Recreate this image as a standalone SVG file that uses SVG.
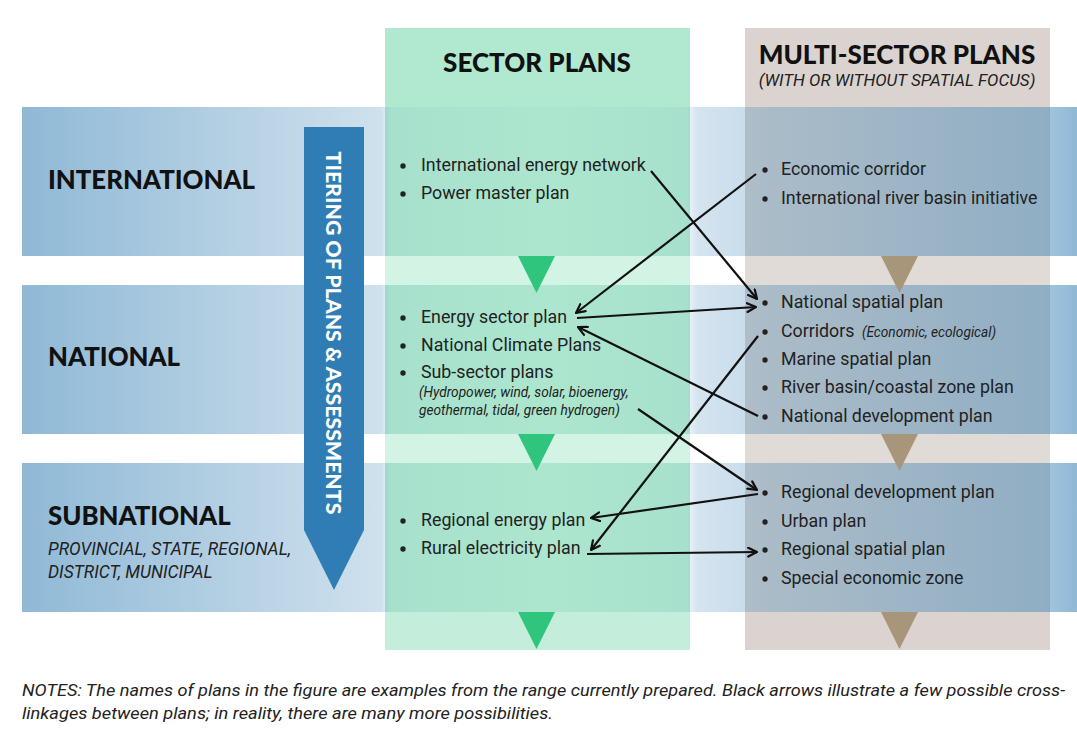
<svg xmlns="http://www.w3.org/2000/svg" width="1077" height="732" viewBox="0 0 1077 732">
  <defs>
    <linearGradient id="bandGrad" gradientUnits="userSpaceOnUse" x1="22" y1="0" x2="1077" y2="0">
      <stop offset="0" stop-color="#3f86b8" stop-opacity="0.58"/>
      <stop offset="0.34" stop-color="#3f86b8" stop-opacity="0.25"/>
      <stop offset="0.35" stop-color="#3f86b8" stop-opacity="0.08"/>
      <stop offset="0.5" stop-color="#3f86b8" stop-opacity="0.03"/>
      <stop offset="0.63" stop-color="#3f86b8" stop-opacity="0.08"/>
      <stop offset="0.64" stop-color="#3f86b8" stop-opacity="0.22"/>
      <stop offset="0.7" stop-color="#3f86b8" stop-opacity="0.3"/>
      <stop offset="0.97" stop-color="#3f86b8" stop-opacity="0.48"/>
      <stop offset="1" stop-color="#3f86b8" stop-opacity="0.58"/>
    </linearGradient>
    <marker id="arr" viewBox="0 0 10 10" refX="9" refY="5" markerWidth="5" markerHeight="5" orient="auto" markerUnits="strokeWidth">
      <path d="M1,1 L9,5 L1,9" fill="none" stroke="#111" stroke-width="2" stroke-linecap="round" stroke-linejoin="round"/>
    </marker>
  </defs>
  <style>
    .lvl { font-family: "Lato", "Liberation Sans", sans-serif; font-weight: 900; fill: #111; }
    .hdr { font-family: "Lato", "Liberation Sans", sans-serif; font-weight: 900; fill: #111; }
    .it { font-family: "Roboto", "Liberation Sans", sans-serif; font-style: italic; fill: #222; }
    .item { font-family: "Roboto", "Liberation Sans", sans-serif; font-size: 17.8px; fill: #222; }
    .small { font-family: "Roboto", "Liberation Sans", sans-serif; font-style: italic; font-size: 13.7px; fill: #222; }
    .dot { fill: #222; }
    .conn line { stroke: #111; stroke-width: 2.2; fill: none; marker-end: url(#arr); }
    .band { fill: url(#bandGrad); }
    .tg { fill: #30c57d; }
    .tb { fill: #a8967a; }
  </style>
  <rect width="1077" height="732" fill="#ffffff"/>

  <!-- columns -->
  <g id="col-sector">
    <rect x="385" y="28" width="305" height="622" fill="#b0e9cf"/>
  </g>
  <g id="col-multi">
    <rect x="745" y="28" width="305" height="622" fill="#dad3cf"/>
  </g>

  <!-- bands -->
  <g id="bands">
    <rect class="band" x="22" y="107" width="1055" height="149"/>
    <rect class="band" x="22" y="285" width="1055" height="149"/>
    <rect class="band" x="22" y="463" width="1055" height="149"/>
  </g>
  <!-- lighter gaps within columns -->
  <g id="gaps">
    <rect x="385" y="256" width="305" height="29" fill="#ffffff" fill-opacity="0.45"/>
    <rect x="385" y="434" width="305" height="29" fill="#ffffff" fill-opacity="0.45"/>
    <rect x="385" y="612" width="305" height="38" fill="#ffffff" fill-opacity="0.25"/>
    <rect x="745" y="256" width="305" height="29" fill="#ffffff" fill-opacity="0.2"/>
    <rect x="745" y="434" width="305" height="29" fill="#ffffff" fill-opacity="0.2"/>
  </g>

  <!-- triangles -->
  <g id="triangles">
    <polygon class="tg" points="518,256 555,256 536.5,293"/>
    <polygon class="tg" points="518,434 555,434 536.5,471"/>
    <polygon class="tg" points="518,612 555,612 536.5,649"/>
    <polygon class="tb" points="881,256 918,256 899.5,293"/>
    <polygon class="tb" points="881,434 918,434 899.5,471"/>
    <polygon class="tb" points="881,612 918,612 899.5,649"/>
  </g>

  <!-- column headers -->
  <g id="hdr-sector">
    <text class="hdr" x="537" y="72" font-size="26" text-anchor="middle">SECTOR PLANS</text>
  </g>
  <g id="hdr-multi">
    <text class="hdr" x="897" y="64" font-size="26" text-anchor="middle">MULTI-SECTOR PLANS</text>
    <text class="it" x="897" y="86" font-size="17" text-anchor="middle">(WITH OR WITHOUT SPATIAL FOCUS)</text>
  </g>

  <!-- level labels -->
  <g id="lvl-international">
    <text class="lvl" x="48" y="189" font-size="25.8">INTERNATIONAL</text>
  </g>
  <g id="lvl-national">
    <text class="lvl" x="48" y="366" font-size="25.8">NATIONAL</text>
  </g>
  <g id="lvl-subnational">
    <text class="lvl" x="48" y="525" font-size="25.8">SUBNATIONAL</text>
    <text class="it" x="48" y="555" font-size="17.4">PROVINCIAL, STATE, REGIONAL,</text>
    <text class="it" x="48" y="578" font-size="17.4">DISTRICT, MUNICIPAL</text>
  </g>

  <!-- tiering arrow -->
  <g id="tiering">
    <polygon points="304,127 364,127 364,530 334,590 304,530" fill="#2f7db4"/>
    <text x="334" y="333" transform="rotate(90 334 333)" text-anchor="middle" dominant-baseline="central" font-family="Lato, 'Liberation Sans', sans-serif" font-weight="900" font-size="21.3" fill="#ffffff">TIERING OF PLANS &amp; ASSESSMENTS</text>
  </g>

  <!-- sector plan items -->
  <g id="sector-international">
    <circle class="dot" cx="403" cy="166" r="2.7"/>
    <text class="item" x="421" y="171">International energy network</text>
    <circle class="dot" cx="403" cy="194" r="2.7"/>
    <text class="item" x="421" y="199">Power master plan</text>
  </g>
  <g id="sector-national">
    <circle class="dot" cx="403" cy="318" r="2.7"/>
    <text class="item" x="421" y="323">Energy sector plan</text>
    <circle class="dot" cx="403" cy="346" r="2.7"/>
    <text class="item" x="421" y="351">National Climate Plans</text>
    <circle class="dot" cx="403" cy="373" r="2.7"/>
    <text class="item" x="421" y="378">Sub-sector plans</text>
    <text class="small" x="419" y="397">(Hydropower, wind, solar, bioenergy,</text>
    <text class="small" x="419" y="415">geothermal, tidal, green hydrogen)</text>
  </g>
  <g id="sector-subnational">
    <circle class="dot" cx="403" cy="521" r="2.7"/>
    <text class="item" x="421" y="526">Regional energy plan</text>
    <circle class="dot" cx="403" cy="549" r="2.7"/>
    <text class="item" x="421" y="554">Rural electricity plan</text>
  </g>

  <!-- multi-sector plan items -->
  <g id="multi-international">
    <circle class="dot" cx="765" cy="170" r="2.7"/>
    <text class="item" x="781" y="175">Economic corridor</text>
    <circle class="dot" cx="765" cy="199" r="2.7"/>
    <text class="item" x="781" y="204">International river basin initiative</text>
  </g>
  <g id="multi-national">
    <circle class="dot" cx="765" cy="303" r="2.7"/>
    <text class="item" x="781" y="308">National spatial plan</text>
    <circle class="dot" cx="765" cy="332" r="2.7"/>
    <text class="item" x="781" y="337">Corridors <tspan class="small" font-size="13.7" font-style="italic" dx="3">(Economic, ecological)</tspan></text>
    <circle class="dot" cx="765" cy="360" r="2.7"/>
    <text class="item" x="781" y="365">Marine spatial plan</text>
    <circle class="dot" cx="765" cy="388" r="2.7"/>
    <text class="item" x="781" y="393">River basin/coastal zone plan</text>
    <circle class="dot" cx="765" cy="417" r="2.7"/>
    <text class="item" x="781" y="422">National development plan</text>
  </g>
  <g id="multi-subnational">
    <circle class="dot" cx="765" cy="493" r="2.7"/>
    <text class="item" x="781" y="498">Regional development plan</text>
    <circle class="dot" cx="765" cy="522" r="2.7"/>
    <text class="item" x="781" y="527">Urban plan</text>
    <circle class="dot" cx="765" cy="550" r="2.7"/>
    <text class="item" x="781" y="555">Regional spatial plan</text>
    <circle class="dot" cx="765" cy="579" r="2.7"/>
    <text class="item" x="781" y="584">Special economic zone</text>
  </g>

  <!-- connectors -->
  <g id="connectors" class="conn">
    <line x1="651" y1="171" x2="757" y2="299"/>
    <line x1="756" y1="174" x2="576" y2="313"/>
    <line x1="577" y1="318" x2="756" y2="307"/>
    <line x1="758" y1="416" x2="578" y2="327"/>
    <line x1="638" y1="409" x2="757" y2="490"/>
    <line x1="758" y1="336" x2="591" y2="550"/>
    <line x1="758" y1="494" x2="591" y2="518"/>
    <line x1="587" y1="554" x2="757" y2="552"/>
  </g>

  <!-- notes -->
  <g id="notes">
    <text class="it" x="22" y="696" font-size="16.5" textLength="1043" lengthAdjust="spacingAndGlyphs">NOTES: The names of plans in the figure are examples from the range currently prepared. Black arrows illustrate a few possible cross-</text>
    <text class="it" x="22" y="719" font-size="16.5" textLength="531" lengthAdjust="spacingAndGlyphs">linkages between plans; in reality, there are many more possibilities.</text>
  </g>
</svg>
